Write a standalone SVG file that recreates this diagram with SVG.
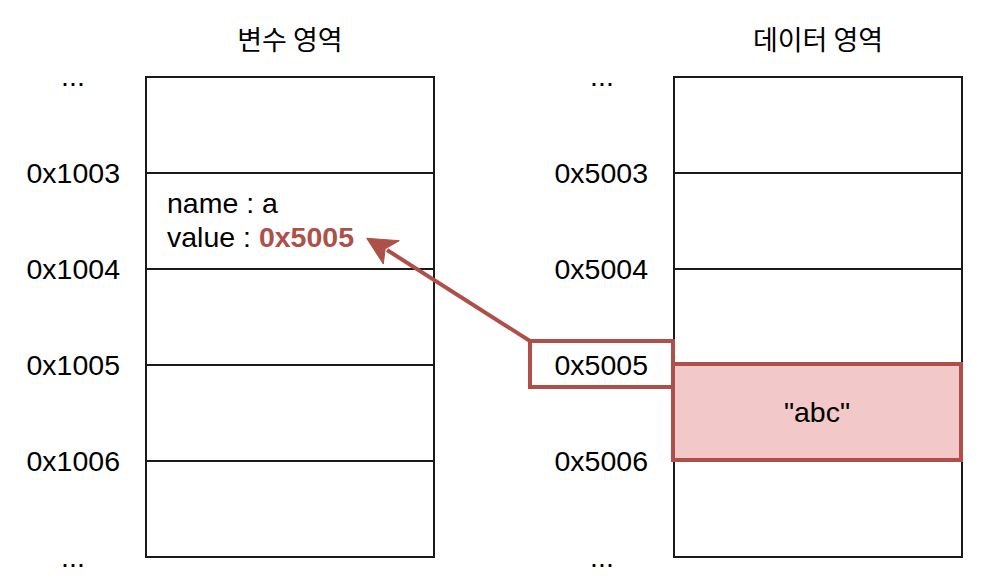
<svg xmlns="http://www.w3.org/2000/svg" width="982" height="578" viewBox="0 0 982 578">
<style>
.cell{fill:#ffffff;stroke:#1a1a1a;stroke-width:2}
.sep{stroke:#1a1a1a;stroke-width:2}
.t{font-family:"Liberation Sans","Noto Sans CJK KR",Arial,sans-serif;font-size:28.5px;fill:#000}
.title{font-family:"Noto Sans CJK KR","Liberation Sans",sans-serif;font-size:27px;fill:#000;text-anchor:middle}
.addr{text-anchor:end}
.dots{text-anchor:middle}
.hl{fill:none;stroke:#ae4f4a;stroke-width:4}
.ptr{fill:#ae4f4a;font-weight:bold}
</style>
<rect width="982" height="578" fill="#ffffff"/>
<g id="var-area">
  <text class="title" x="290" y="50">변수 영역</text>
  <rect class="cell" x="146" y="77" width="288" height="480"/>
  <line class="sep" x1="146" y1="173" x2="434" y2="173"/>
  <line class="sep" x1="146" y1="269" x2="434" y2="269"/>
  <line class="sep" x1="146" y1="365" x2="434" y2="365"/>
  <line class="sep" x1="146" y1="461" x2="434" y2="461"/>
  <text class="t dots" x="73" y="86">...</text>
  <text class="t addr" x="120" y="183">0x1003</text>
  <text class="t addr" x="120" y="279">0x1004</text>
  <text class="t addr" x="120" y="375">0x1005</text>
  <text class="t addr" x="120" y="471">0x1006</text>
  <text class="t dots" x="73" y="567">...</text>
</g>
<g id="var-a">
  <text class="t" x="167" y="213">name : a</text>
  <text class="t" x="167" y="247">value : <tspan class="ptr">0x5005</tspan></text>
</g>
<g id="data-area">
  <text class="title" x="818" y="50">데이터 영역</text>
  <rect class="cell" x="674" y="77" width="288" height="480"/>
  <line class="sep" x1="674" y1="173" x2="962" y2="173"/>
  <line class="sep" x1="674" y1="269" x2="962" y2="269"/>
  <line class="sep" x1="674" y1="365" x2="962" y2="365"/>
  <line class="sep" x1="674" y1="461" x2="962" y2="461"/>
  <text class="t dots" x="602" y="86">...</text>
  <text class="t addr" x="648" y="183">0x5003</text>
  <text class="t addr" x="648" y="279">0x5004</text>
  <text class="t addr" x="648" y="471">0x5006</text>
  <text class="t dots" x="602" y="567">...</text>
</g>
<g id="addr-5005">
  <rect class="hl" x="530" y="341" width="143" height="46"/>
  <text class="t addr" x="648" y="375">0x5005</text>
</g>
<g id="abc">
  <rect x="673" y="364" width="288" height="96" fill="#f2c9c8" stroke="#ae4f4a" stroke-width="4"/>
  <text class="t" x="817" y="422" text-anchor="middle">"abc"</text>
</g>
<g id="connectors">
  <line x1="530" y1="341" x2="387" y2="250" stroke="#ae4f4a" stroke-width="4"/>
  <polygon points="366.7,238.3 399.3,240.7 385.2,248.8 383.3,264" fill="#ae4f4a" stroke="#ae4f4a" stroke-width="1" stroke-linejoin="miter"/>
</g>
</svg>
